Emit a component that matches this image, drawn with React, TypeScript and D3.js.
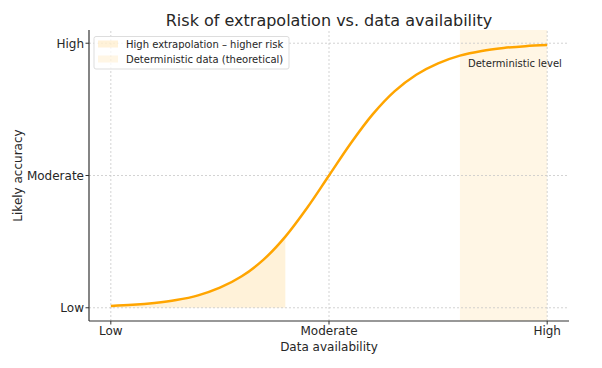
import React from 'react';
import * as d3 from 'd3';

// values (x: data availability 0..1, y: likely accuracy 0..1)
const xValues = [0, 0.05, 0.1, 0.15, 0.2, 0.25, 0.3, 0.35, 0.4, 0.45, 0.5, 0.55, 0.6, 0.65, 0.7, 0.75, 0.8, 0.85, 0.9, 0.95, 1];
const accuracy = [0.007, 0.011, 0.018, 0.029, 0.047, 0.076, 0.119, 0.182, 0.269, 0.378, 0.5, 0.622, 0.731, 0.818, 0.881, 0.924, 0.953, 0.971, 0.982, 0.989, 0.993];

const tickValues = [0, 0.5, 1];
const tickLabels = ['Low', 'Moderate', 'High'];

const extrapolationEnd = 0.4;
const deterministicRange = [0.8, 1];

const legendLabels = ['High extrapolation – higher risk', 'Deterministic data (theoretical)'];

const W = 602;
const H = 368;
const margin = { top: 30, right: 33, bottom: 47, left: 89 };
const FONT = 'DejaVu Sans, sans-serif';
const TXT = '#262626';

const App: React.FC = () => {
  const x = d3.scaleLinear().domain([-0.05, 1.05]).range([margin.left, W - margin.right]);
  const y = d3.scaleLinear().domain([-0.05, 1.05]).range([H - margin.bottom, margin.top]);

  const points = xValues.map((v, i) => ({ x: v, y: accuracy[i] }));
  const line = d3.line<{ x: number; y: number }>()
    .x(d => x(d.x)).y(d => y(d.y)).curve(d3.curveCatmullRom);

  // shaded area under the curve up to extrapolationEnd
  const areaPts = points.filter(p => p.x <= extrapolationEnd);
  const area = d3.area<{ x: number; y: number }>()
    .x(d => x(d.x)).y0(y(0)).y1(d => y(d.y)).curve(d3.curveCatmullRom);

  const x0 = margin.left;
  const x1 = W - margin.right;
  const y0 = H - margin.bottom;
  const y1 = margin.top;

  return (
    <svg width={W} height={H} style={{ position: 'absolute', left: 0, top: 0, fontFamily: FONT }}>
      <rect width={W} height={H} fill="#fff" />

      {/* deterministic band */}
      <rect x={x(deterministicRange[0])} y={y1} width={x(deterministicRange[1]) - x(deterministicRange[0])}
        height={y0 - y1} fill="#ffa500" fillOpacity={0.1} />
      <path d={area(areaPts) || ''} fill="#ffa500" fillOpacity={0.15} />

      {/* grid */}
      {tickValues.map(t => (
        <g key={'g' + t}>
          <line x1={x(t)} x2={x(t)} y1={y0} y2={y1} stroke="#c8c8c8" strokeWidth={0.8} strokeDasharray="2,2" />
          <line x1={x0} x2={x1} y1={y(t)} y2={y(t)} stroke="#c8c8c8" strokeWidth={0.8} strokeDasharray="2,2" />
        </g>
      ))}

      <path d={line(points) || ''} fill="none" stroke="#ffa500" strokeWidth={2.5} />

      {/* spines */}
      <line x1={x0} x2={x0} y1={y0} y2={y1} stroke="#333" strokeWidth={1.2} />
      <line x1={x0} x2={x1} y1={y0} y2={y0} stroke="#333" strokeWidth={1.2} />

      {/* ticks */}
      {tickValues.map((t, i) => (
        <g key={'t' + t} fill={TXT} fontSize={12}>
          <line x1={x(t)} x2={x(t)} y1={y0} y2={y0 + 3.5} stroke="#333" />
          <text x={x(t)} y={y0 + 14} textAnchor="middle">{tickLabels[i]}</text>
          <line x1={x0 - 3.5} x2={x0} y1={y(t)} y2={y(t)} stroke="#333" />
          <text x={x0 - 5} y={y(t)} dy="0.36em" textAnchor="end">{tickLabels[i]}</text>
        </g>
      ))}

      <text x={(x0 + x1) / 2} y={351} textAnchor="middle" fontSize={12} fill={TXT}>Data availability</text>
      <text transform={`translate(22,${(y0 + y1) / 2}) rotate(-90)`} textAnchor="middle" fontSize={12} fill={TXT}>Likely accuracy</text>
      <text x={(x0 + x1) / 2} y={25.5} textAnchor="middle" fontSize={16} fill={TXT}>Risk of extrapolation vs. data availability</text>

      <text x={468} y={66.5} fontSize={10} fill={TXT}>Deterministic level</text>

      {/* legend */}
      <g>
        <rect x={94} y={36.5} width={195} height={32.5} rx={2} fill="#fff" fillOpacity={0.8} stroke="#ddd" />
        {legendLabels.map((l, i) => (
          <g key={l}>
            <rect x={98} y={40.5 + i * 15} width={20} height={7} fill="#ffa500" fillOpacity={i === 0 ? 0.15 : 0.1} />
            <text x={126} y={44 + i * 15} dy="0.36em" fontSize={10} fill={TXT}>{l}</text>
          </g>
        ))}
      </g>
    </svg>
  );
};

export default App;
